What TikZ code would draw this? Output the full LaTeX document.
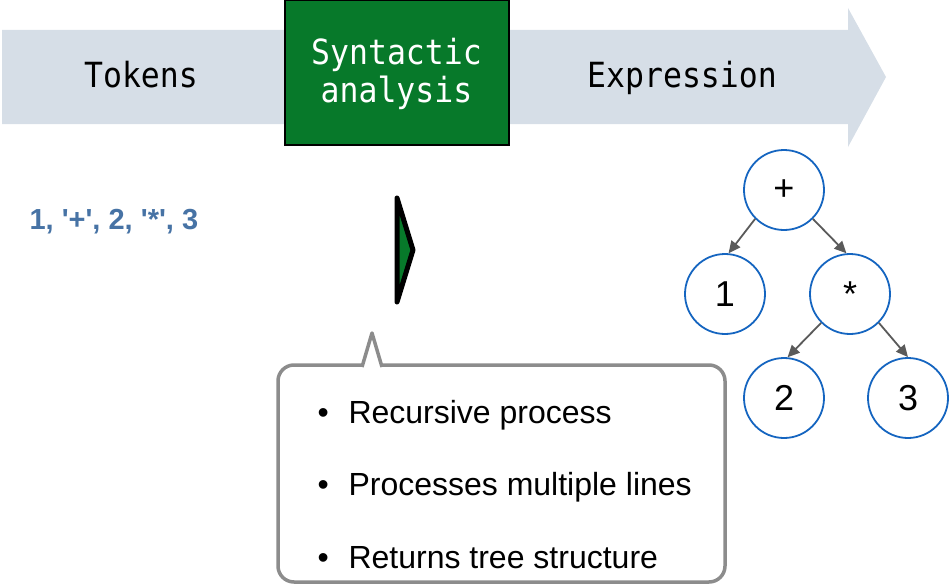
\documentclass[tikz,border=0pt]{standalone}
\usepackage{fontspec}
\setmainfont{Liberation Sans}
\setmonofont{DejaVu Sans Mono}
\usetikzlibrary{arrows.meta}

\definecolor{bandgray}{HTML}{D6DEE7}
\definecolor{boxgreen}{HTML}{07792A}
\definecolor{tokblue}{HTML}{4773A5}
\definecolor{treeblue}{HTML}{1565C0}
\definecolor{edgegray}{HTML}{5A5A5A}
\definecolor{calloutgray}{HTML}{8C8C8C}

% taller mono lettering
\newcommand{\tallmono}[1]{\scalebox{1}[1.1]{#1}}

\begin{document}
\begin{tikzpicture}[x=1pt,y=-1pt,
    stage/.style={font=\fontsize{31.5}{37}\selectfont\ttfamily},
    treenode/.style={circle, draw=treeblue, line width=1.8pt, minimum size=80pt,
        inner sep=0pt, font=\fontsize{36}{38}\selectfont},
    treeedge/.style={draw=edgegray, line width=1.8pt,
        -{Triangle[length=12pt,width=11pt]}},
    bulletline/.style={anchor=base west, font=\fontsize{32}{36}\selectfont}]

    \useasboundingbox (0,0) rectangle (950,586);

    % Pipeline band with its arrow head
    \fill[bandgray] (2,30) -- (848,30) -- (848,8) -- (886,77)
        -- (848,147) -- (848,124) -- (2,124) -- cycle;

    % Stage names
    \node[stage, anchor=base] (tok) at (141,87) {\tallmono{Tokens}};
    \node[stage, anchor=base] (expr) at (682,87) {\tallmono{Expression}};
    \node[draw=black, line width=2pt, fill=boxgreen, minimum width=224pt,
        minimum height=144pt] (parser) at (396.5,72.5) {};
    \node[stage, anchor=base, text=white] (synt) at (parser.center |- 0,65) {\tallmono{Syntactic}};
    \node[stage, anchor=base, text=white] (anal) at (parser.center |- 0,102) {\tallmono{analysis}};

    % Token sequence
    \node[anchor=base west, text=tokblue, font=\fontsize{29}{32}\selectfont\bfseries]
        (tokens) at (26,229)
        {1, \textquotesingle+\textquotesingle, 2, \textquotesingle*\textquotesingle, 3};

    % Small play marker
    \coordinate (P) at (397,198); % top point
    \coordinate (Q) at (413,250); % tip
    \coordinate (R) at (397,302); % bottom point
    \draw[line width=5pt, line join=round, line cap=round, fill=boxgreen]
        (P) -- (Q) -- (R) -- cycle;

    % Callout box with its pointer
    \node[draw=calloutgray, line width=3.5pt, rounded corners=16pt, fill=white,
        minimum width=447pt, minimum height=217pt] (notes) at (501.5,473.5) {};
    \fill[white] (363,368) rectangle (381,361);
    \draw[calloutgray, line width=3.5pt, line join=round]
        (362,367) -- (372,333) -- (382,367);

    \node[bulletline] (b1) at (314,423) {\makebox[31pt][l]{\textbullet}Recursive process};
    \node[bulletline] (b2) at (314,495) {\makebox[31pt][l]{\textbullet}Processes multiple lines};
    \node[bulletline] (b3) at (314,568) {\makebox[31pt][l]{\textbullet}Returns tree structure};

    % Expression tree
    \node[treenode] (plus) at (784,190) {+};
    \node[treenode] (one) at (725,294) {1};
    \node[treenode] (star) at (850,294) {*};
    \node[treenode] (two) at (784,398) {2};
    \node[treenode] (three) at (908,398) {3};

    \draw[treeedge] (plus.225) -- (one.85);
    \draw[treeedge] (plus.315) -- (star.95);
    \draw[treeedge] (star.225) -- (two.85);
    \draw[treeedge] (star.315) -- (three.north);

\end{tikzpicture}
\end{document}
